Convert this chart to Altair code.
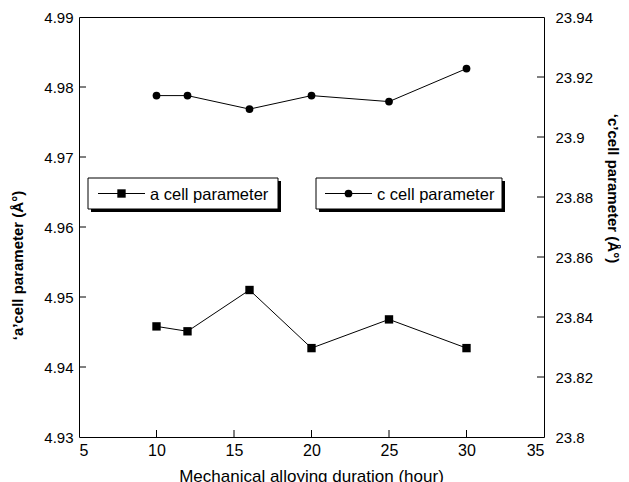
import altair as alt
import pandas as pd

# ---- data ----
duration = [10, 12, 16, 20, 25, 30]
a_param = [4.9458, 4.9451, 4.9510, 4.9427, 4.9468, 4.9427]
c_param = [23.9138, 23.9138, 23.9093, 23.9138, 23.9118, 23.9228]

x_ticks = [10, 15, 20, 25, 30]
a_ticks = [4.94, 4.95, 4.96, 4.97, 4.98]
c_ticks = [23.82, 23.84, 23.86, 23.88, 23.90, 23.92]

legend_labels = ["a cell parameter", "c cell parameter"]

FONT = "Liberation Sans"
W, H = 465, 420

df = pd.DataFrame({"x": duration, "a": a_param, "c": c_param})
df_xt = pd.DataFrame({"x": x_ticks})
df_at = pd.DataFrame({"y": a_ticks})
df_ct = pd.DataFrame({"y": c_ticks})

x_enc = alt.X(
    "x:Q",
    scale=alt.Scale(domain=[5, 35], nice=False, zero=False),
    axis=alt.Axis(
        values=[5, 10, 15, 20, 25, 30, 35], format="d", ticks=False, domain=False,
        grid=False, labelPadding=5, labelFontSize=16, labelFont=FONT, labelColor="black",
        title="Mechanical alloying duration (hour)", titleFont=FONT, titleFontSize=17,
        titleFontWeight="normal", titleColor="black", titleX=232, titleY=44,
        titleBaseline="alphabetic", titleAlign="center",
    ),
)

a_scale = alt.Scale(domain=[4.93, 4.99], nice=False, zero=False)
c_scale = alt.Scale(domain=[23.8, 23.94], nice=False, zero=False)

a_axis = alt.Axis(
    orient="left", values=[4.93, 4.94, 4.95, 4.96, 4.97, 4.98, 4.99], format=".2f",
    ticks=False, domain=False, grid=False, labelPadding=6, labelFontSize=15,
    labelFont=FONT, labelColor="black",
    title="\u2018a\u2019cell parameter (\u00c5\u00b0)", titleFont=FONT, titleFontSize=15,
    titleFontWeight="bold", titleColor="black", titleAngle=270, titleX=-62, titleY=248,
    titleAlign="center", titleBaseline="middle",
)
c_axis = alt.Axis(
    orient="right", values=[23.8, 23.82, 23.84, 23.86, 23.88, 23.9, 23.92, 23.94], format="~r",
    ticks=False, domain=False, grid=False, labelPadding=11, labelFontSize=15,
    labelFont=FONT, labelColor="black",
    title="\u2018c\u2019cell parameter (\u00c5\u00b0)", titleFont=FONT, titleFontSize=15,
    titleFontWeight="bold", titleColor="black", titleAngle=90, titleX=68, titleY=171,
    titleAlign="center", titleBaseline="middle",
)

base = alt.Chart(df)

a_line = base.mark_line(color="black", strokeWidth=1).encode(
    x=x_enc, y=alt.Y("a:Q", scale=a_scale, axis=a_axis))
a_pts = base.mark_point(shape="square", filled=True, color="black", size=70, opacity=1).encode(
    x="x:Q", y="a:Q")
x_tk = alt.Chart(df_xt).mark_rule(color="black", strokeWidth=1).encode(
    x="x:Q", y=alt.value(H), y2=alt.value(H - 7))
a_tk = alt.Chart(df_at).mark_rule(color="black", strokeWidth=1).encode(
    y="y:Q", x=alt.value(0), x2=alt.value(7))

# legend boxes (decoration)
def legend(x0, x1, y0, y1, lx0, lx1, label, shape):
    shadow = alt.Chart(df.head(1)).mark_rect(color="black").encode(
        x=alt.value(x0 + 3), x2=alt.value(x1 + 3), y=alt.value(y0 + 3), y2=alt.value(y1 + 3))
    box = alt.Chart(df.head(1)).mark_rect(fill="white", stroke="black", strokeWidth=1).encode(
        x=alt.value(x0), x2=alt.value(x1), y=alt.value(y0), y2=alt.value(y1))
    yc = (y0 + y1) / 2
    ln = alt.Chart(df.head(1)).mark_rule(color="black", strokeWidth=1).encode(
        x=alt.value(lx0), x2=alt.value(lx1), y=alt.value(yc))
    mk = alt.Chart(df.head(1)).mark_point(shape=shape, filled=True, color="black",
                                          size=70 if shape == "square" else 60, opacity=1).encode(
        x=alt.value((lx0 + lx1) / 2), y=alt.value(yc))
    tx = alt.Chart(df.head(1)).mark_text(text=label, align="left", baseline="middle",
                                         font=FONT, fontSize=16.5, color="black").encode(
        x=alt.value(lx1 + 5), y=alt.value(yc + 1))
    return [shadow, box, ln, mk, tx]

leg = legend(9, 199, 161, 192, 19, 66, legend_labels[0], "square") + \
      legend(237, 423, 161, 192, 246, 293, legend_labels[1], "circle")

left = alt.layer(a_line, a_pts, x_tk, a_tk, *leg)

c_line = base.mark_line(color="black", strokeWidth=1).encode(
    x="x:Q", y=alt.Y("c:Q", scale=c_scale, axis=c_axis))
c_pts = base.mark_point(shape="circle", filled=True, color="black", size=60, opacity=1).encode(
    x="x:Q", y="c:Q")
c_tk = alt.Chart(df_ct).mark_rule(color="black", strokeWidth=1).encode(
    y="y:Q", x=alt.value(W), x2=alt.value(W - 7))
right = alt.layer(c_line, c_pts, c_tk)

chart = alt.layer(left, right).resolve_scale(y="independent").properties(
    width=W, height=H,
    autosize=alt.AutoSizeParams(type="none"),
    padding={"left": 71, "top": 9, "right": 77, "bottom": 45},
    background="white",
).configure_view(stroke="black", strokeWidth=1)

chart.save("out.html", embed_options={"renderer": "svg", "actions": False})
